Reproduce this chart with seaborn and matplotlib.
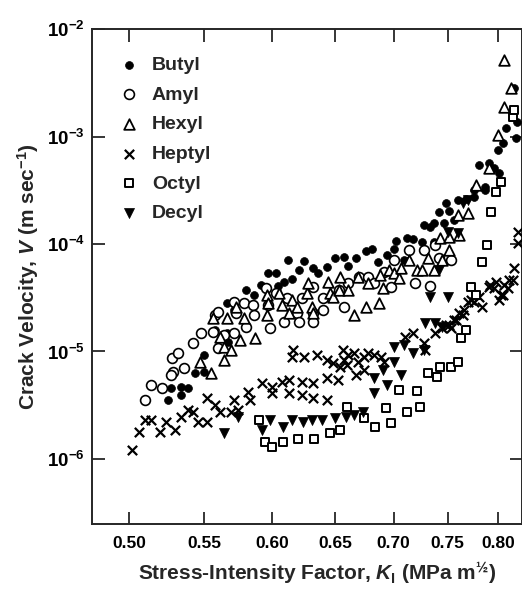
import numpy as np
import pandas as pd
import matplotlib
matplotlib.use("Agg")
import matplotlib.pyplot as plt
import seaborn as sns

# Stress-intensity factor K (MPa m^1/2) and log10 of crack velocity (m/s)
butyl_k = [0.612, 0.625, 0.597, 0.603, 0.621, 0.632, 0.636, 0.643, 0.650, 0.657, 0.667, 0.661,
           0.676, 0.681, 0.686, 0.694, 0.702, 0.700, 0.712, 0.718, 0.726, 0.709, 0.712, 0.728,
           0.733, 0.737, 0.737, 0.742, 0.748, 0.751, 0.760, 0.768, 0.746, 0.756, 0.776, 0.786,
           0.776, 0.591, 0.604, 0.609, 0.615, 0.580, 0.586, 0.566, 0.571, 0.558, 0.566, 0.567,
           0.550, 0.544, 0.550, 0.527, 0.534, 0.539, 0.525, 0.534, 0.816, 0.815, 0.819, 0.808,
           0.805, 0.800, 0.818, 0.780, 0.790, 0.796, 0.801, 0.786]
butyl_logv = [-4.149, -4.158, -4.270, -4.270, -4.242, -4.223, -4.270, -4.214, -4.130, -4.121,
              -4.130, -4.205, -4.065, -4.047, -4.167, -4.102, -3.972, -4.047, -3.944, -3.953,
              -3.981, -4.149, -4.158, -3.823, -3.842, -3.805, -3.981, -3.702, -3.619, -3.693,
              -3.591, -3.581, -3.805, -3.777, -3.498, -3.498, -3.563, -4.381, -4.391, -4.353,
              -4.326, -4.428, -4.474, -4.549, -4.614, -4.800, -4.828, -4.912, -5.033, -5.200,
              -5.191, -5.340, -5.330, -5.340, -5.451, -5.405, -2.549, -2.753, -2.865, -2.921,
              -3.060, -3.126, -3.014, -3.265, -3.247, -3.293, -3.340, -3.470]

amyl_k = [0.528, 0.532, 0.529, 0.536, 0.542, 0.548, 0.556, 0.558, 0.560, 0.571, 0.573, 0.579,
          0.585, 0.586, 0.580, 0.571, 0.560, 0.564, 0.595, 0.597, 0.598, 0.603, 0.611, 0.609,
          0.619, 0.621, 0.623, 0.632, 0.632, 0.632, 0.640, 0.640, 0.653, 0.657, 0.661, 0.670,
          0.678, 0.683, 0.692, 0.698, 0.700, 0.714, 0.719, 0.728, 0.733, 0.738, 0.742, 0.753,
          0.527, 0.514, 0.521, 0.510]
amyl_logv = [-5.060, -5.014, -5.191, -5.153, -4.921, -4.828, -4.819, -4.660, -4.633, -4.540,
             -4.642, -4.549, -4.567, -4.660, -4.772, -4.828, -4.967, -4.847, -4.409, -4.567,
             -4.781, -4.456, -4.502, -4.726, -4.642, -4.726, -4.502, -4.400, -4.642, -4.726,
             -4.502, -4.614, -4.428, -4.586, -4.363, -4.307, -4.307, -4.363, -4.260, -4.400,
             -4.149, -4.056, -4.363, -4.056, -4.391, -4.009, -4.130, -4.149, -5.219, -5.312,
             -5.340, -5.451]

hexyl_k = [0.556, 0.566, 0.573, 0.579, 0.561, 0.564, 0.569, 0.576, 0.587, 0.547, 0.555, 0.596,
           0.596, 0.597, 0.605, 0.607, 0.613, 0.615, 0.619, 0.627, 0.628, 0.631, 0.632, 0.644,
           0.646, 0.648, 0.653, 0.654, 0.661, 0.666, 0.669, 0.676, 0.678, 0.687, 0.688, 0.691,
           0.696, 0.700, 0.705, 0.707, 0.714, 0.721, 0.726, 0.731, 0.737, 0.743, 0.745, 0.751,
           0.751, 0.761, 0.770, 0.778, 0.760, 0.564, 0.806, 0.813, 0.806, 0.800, 0.790]
hexyl_logv = [-4.688, -4.688, -4.586, -4.688, -4.865, -4.958, -4.986, -4.893, -4.874, -5.098,
              -5.200, -4.474, -4.660, -4.549, -4.456, -4.567, -4.642, -4.521, -4.586, -4.456,
              -4.363, -4.586, -4.642, -4.353, -4.456, -4.493, -4.428, -4.307, -4.428, -4.660,
              -4.307, -4.586, -4.363, -4.549, -4.288, -4.409, -4.242, -4.270, -4.316, -4.223,
              -4.149, -4.242, -4.242, -4.130, -4.242, -3.944, -4.149, -4.056, -3.935, -3.916,
              -3.712, -3.451, -3.730, -5.079, -2.288, -2.549, -2.726, -2.986, -3.293]

heptyl_k = [0.616, 0.615, 0.625, 0.635, 0.643, 0.648, 0.656, 0.657, 0.661, 0.666, 0.669, 0.674,
            0.678, 0.683, 0.689, 0.692, 0.710, 0.718, 0.728, 0.729, 0.738, 0.745, 0.751, 0.756,
            0.761, 0.766, 0.773, 0.780, 0.790, 0.798, 0.803, 0.806, 0.811, 0.816, 0.820, 0.820,
            0.502, 0.506, 0.510, 0.514, 0.520, 0.524, 0.530, 0.534, 0.539, 0.542, 0.546, 0.552,
            0.552, 0.558, 0.561, 0.571, 0.569, 0.574, 0.582, 0.583, 0.592, 0.600, 0.600, 0.607,
            0.613, 0.613, 0.623, 0.623, 0.632, 0.632, 0.643, 0.643, 0.652, 0.654, 0.660, 0.667,
            0.674, 0.815, 0.810, 0.805, 0.801, 0.796, 0.791, 0.783, 0.776, 0.770, 0.765, 0.758,
            0.753, 0.748]
heptyl_logv = [-4.986, -5.051, -5.051, -5.033, -5.079, -5.107, -4.986, -5.079, -5.033, -5.014,
               -5.098, -5.051, -5.014, -5.033, -5.051, -5.098, -4.865, -4.828, -4.921, -4.986,
               -4.828, -4.781, -4.753, -4.707, -4.642, -4.614, -4.521, -4.493, -4.400, -4.353,
               -4.474, -4.381, -4.335, -4.223, -3.888, -3.991, -5.916, -5.749, -5.637, -5.637,
               -5.749, -5.656, -5.730, -5.609, -5.544, -5.563, -5.656, -5.656, -5.433, -5.498,
               -5.563, -5.451, -5.563, -5.544, -5.377, -5.451, -5.293, -5.330, -5.386, -5.284,
               -5.265, -5.386, -5.284, -5.405, -5.293, -5.433, -5.247, -5.451, -5.265, -5.144,
               -5.126, -5.219, -5.172, -4.335, -4.409, -4.474, -4.521, -4.409, -4.381, -4.586,
               -4.540, -4.540, -4.660, -4.707, -4.781, -4.753]

octyl_k = [0.590, 0.594, 0.600, 0.608, 0.620, 0.633, 0.646, 0.654, 0.660, 0.674, 0.684, 0.693,
           0.698, 0.705, 0.712, 0.721, 0.724, 0.731, 0.740, 0.743, 0.753, 0.760, 0.763, 0.768,
           0.773, 0.778, 0.783, 0.788, 0.793, 0.798, 0.803, 0.815, 0.816]
octyl_logv = [-5.637, -5.842, -5.888, -5.842, -5.814, -5.814, -5.758, -5.730, -5.516, -5.619,
              -5.702, -5.526, -5.665, -5.358, -5.563, -5.367, -5.516, -5.200, -5.237, -5.144,
              -5.144, -5.098, -4.874, -4.800, -4.400, -4.474, -4.167, -4.009, -3.702, -3.516,
              -3.423, -2.819, -2.753]

decyl_k = [0.564, 0.574, 0.592, 0.598, 0.608, 0.615, 0.624, 0.631, 0.639, 0.650, 0.659, 0.666,
           0.673, 0.683, 0.683, 0.691, 0.694, 0.700, 0.707, 0.700, 0.709, 0.718, 0.728, 0.729,
           0.738, 0.745, 0.733, 0.750, 0.742, 0.750, 0.760, 0.765, 0.770]
decyl_logv = [-5.758, -5.609, -5.730, -5.637, -5.702, -5.637, -5.656, -5.637, -5.637, -5.619,
              -5.609, -5.591, -5.563, -5.386, -5.247, -5.172, -5.312, -5.098, -5.219, -4.958,
              -4.940, -5.014, -4.986, -4.735, -4.735, -4.772, -4.493, -4.493, -4.242, -3.888,
              -3.898, -3.619, -3.591]

y_ticks = [1e-2, 1e-3, 1e-4, 1e-5, 1e-6]
y_ticklabels = [r"$10^{-2}$", r"$10^{-3}$", r"$10^{-4}$", r"$10^{-5}$", r"$10^{-6}$"]
x_ticks = [0.50, 0.55, 0.60, 0.65, 0.70, 0.75, 0.80]
x_ticklabels = ["0.50", "0.55", "0.60", "0.65", "0.70", "0.75", "0.80"]

sns.set_style("ticks")
plt.rcParams["font.family"] = ["Liberation Sans", "DejaVu Sans"]
plt.rcParams["font.weight"] = "bold"
plt.rcParams["mathtext.fontset"] = "custom"
plt.rcParams["mathtext.rm"] = "Liberation Sans:bold"
plt.rcParams["mathtext.it"] = "Liberation Sans:italic:bold"
plt.rcParams["mathtext.bf"] = "Liberation Sans:bold"
plt.rcParams["mathtext.default"] = "rm"

fig = plt.figure(figsize=(5.22, 5.93), dpi=100)
ax = fig.add_axes([0.1757, 0.1164, 1.0 - 0.1757, 0.951 - 0.1164])

series = [
    ("Butyl", butyl_k, butyl_logv, dict(marker="o", s=32, color="black", edgecolor="black", linewidth=0.5)),
    ("Amyl", amyl_k, amyl_logv, dict(marker="o", s=50, color="black", facecolor="white", edgecolor="black", linewidth=1.2)),
    ("Hexyl", hexyl_k, hexyl_logv, dict(marker="^", s=58, color="black", facecolor="white", edgecolor="black", linewidth=1.3)),
    ("Heptyl", heptyl_k, heptyl_logv, dict(marker="x", s=45, color="black", linewidth=1.6)),
    ("Octyl", octyl_k, octyl_logv, dict(marker="s", s=32, color="black", facecolor="white", edgecolor="black", linewidth=1.4)),
    ("Decyl", decyl_k, decyl_logv, dict(marker="v", s=52, color="black", edgecolor="black", linewidth=0.5)),
]

for name, k, logv, style in series:
    df = pd.DataFrame({"K": k, "V": 10.0 ** np.array(logv)})
    sns.scatterplot(data=df, x="K", y="V", ax=ax, label=name, zorder=3, **style)

ax.set_xscale("log")
ax.set_yscale("log")
ax.set_xlim(0.4767, 0.8244)
ax.set_ylim(10 ** -6.605, 1e-2)

ax.xaxis.set_major_locator(matplotlib.ticker.FixedLocator(x_ticks))
ax.xaxis.set_minor_locator(matplotlib.ticker.NullLocator())
ax.set_xticklabels(x_ticklabels)
ax.yaxis.set_major_locator(matplotlib.ticker.FixedLocator(y_ticks))
ax.yaxis.set_minor_locator(matplotlib.ticker.NullLocator())
ax.set_yticklabels(y_ticklabels)

ax.tick_params(direction="in", top=True, right=True, length=9, width=1.1,
               labelsize=12.5, colors="black")
ax.tick_params(axis="x", pad=9)
ax.tick_params(axis="y", labelsize=13.5, pad=5)
for sp in ax.spines.values():
    sp.set_linewidth(1.4)

ax.set_xlabel(r"Stress-Intensity Factor, $\mathit{K}_{\mathrm{I}}$ (MPa m$^{½}$)",
              fontsize=15, fontweight="bold")
ax.xaxis.set_label_coords(0.525, -0.075)
ax.set_ylabel(r"Crack Velocity, $\mathit{V}$ (m sec$^{-1}$)",
              fontsize=15, fontweight="bold", labelpad=4)

leg = ax.legend(loc="upper left", bbox_to_anchor=(0.063, 0.945), frameon=False,
                borderpad=0, borderaxespad=0, handlelength=1.0, handletextpad=0.7,
                labelspacing=0.62, prop={"size": 14, "weight": "bold"})

fig.savefig("out.png", dpi=100)
